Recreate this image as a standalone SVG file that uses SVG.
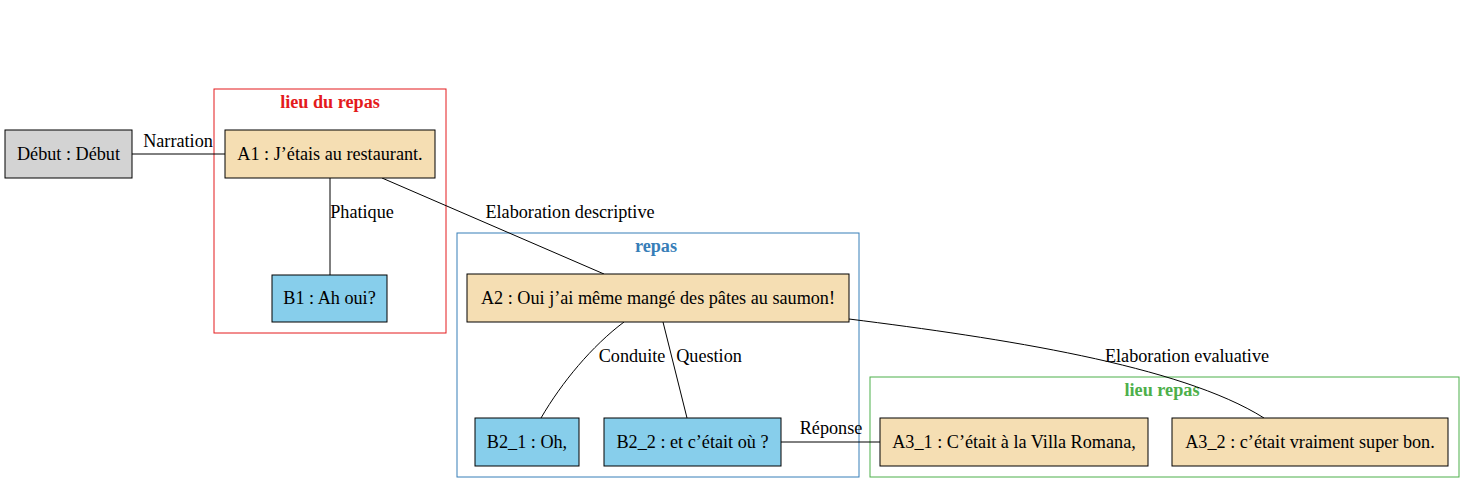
<svg xmlns="http://www.w3.org/2000/svg" width="1475" height="493" viewBox="0 0 1475 493">
<style>
text{font-family:"Liberation Serif","Times New Roman",serif;font-size:18.2px;fill:#000}
.n{stroke:#000;stroke-width:1}
.grey{fill:#d3d3d3}.wheat{fill:#f5deb3}.sky{fill:#87ceeb}
.cl{fill:none;stroke-width:1}
.cll{font-weight:bold}
.e{fill:none;stroke:#000;stroke-width:1}
</style>
<rect width="1475" height="493" fill="#fff"/>
<g id="clusters">
<g id="cluster_lieu_du_repas"><rect class="cl" x="214" y="89" width="232" height="244" stroke="#e41a1c"/><text class="cll" x="330" y="108" text-anchor="middle" style="fill:#e41a1c">lieu du repas</text></g>
<g id="cluster_repas"><rect class="cl" x="457" y="233" width="402" height="244" stroke="#377eb8"/><text class="cll" x="656" y="252" text-anchor="middle" style="fill:#377eb8">repas</text></g>
<g id="cluster_lieu_repas"><rect class="cl" x="870" y="377" width="589" height="100" stroke="#4daf4a"/><text class="cll" x="1162" y="396" text-anchor="middle" style="fill:#4daf4a">lieu repas</text></g>
</g>
<g id="edges">
<path class="e" d="M132,154 L225,154"/><text x="178" y="147" text-anchor="middle">Narration</text>
<path class="e" d="M330,178 L330,275"/><text x="362" y="218" text-anchor="middle">Phatique</text>
<path class="e" d="M382,178 L604,274"/><text x="570" y="218" text-anchor="middle">Elaboration descriptive</text>
<path class="e" d="M624,322 C592,346 562,382 541,418"/><text x="632" y="362" text-anchor="middle">Conduite</text>
<path class="e" d="M663,322 L687,418"/><text x="709" y="362" text-anchor="middle">Question</text>
<path class="e" d="M781,442 L880,442"/><text x="831" y="434" text-anchor="middle">Réponse</text>
<path class="e" d="M849,319 C1000,338 1180,365 1264,418"/><text x="1187" y="362" text-anchor="middle">Elaboration evaluative</text>
</g>
<g id="debut"><rect class="n grey" x="5" y="130" width="127" height="48"/><text x="68.5" y="160" text-anchor="middle">Début : Début</text></g>
<g id="A1"><rect class="n wheat" x="225" y="130" width="210" height="48"/><text x="330" y="160" text-anchor="middle">A1 : J’étais au restaurant.</text></g>
<g id="B1"><rect class="n sky" x="272" y="275" width="115" height="47"/><text x="329.5" y="304" text-anchor="middle">B1 : Ah oui?</text></g>
<g id="A2"><rect class="n wheat" x="467" y="274" width="382" height="48"/><text x="658" y="304" text-anchor="middle">A2 : Oui j’ai même mangé des pâtes au saumon!</text></g>
<g id="B2_1"><rect class="n sky" x="475" y="418" width="104" height="48"/><text x="527" y="448" text-anchor="middle">B2_1 : Oh,</text></g>
<g id="B2_2"><rect class="n sky" x="604" y="418" width="177" height="48"/><text x="692.5" y="448" text-anchor="middle">B2_2 : et c’était où ?</text></g>
<g id="A3_1"><rect class="n wheat" x="880" y="418" width="268" height="48"/><text x="1014" y="448" text-anchor="middle">A3_1 : C’était à la Villa Romana,</text></g>
<g id="A3_2"><rect class="n wheat" x="1172" y="418" width="276" height="48"/><text x="1310" y="448" text-anchor="middle">A3_2 : c’était vraiment super bon.</text></g>
</svg>
